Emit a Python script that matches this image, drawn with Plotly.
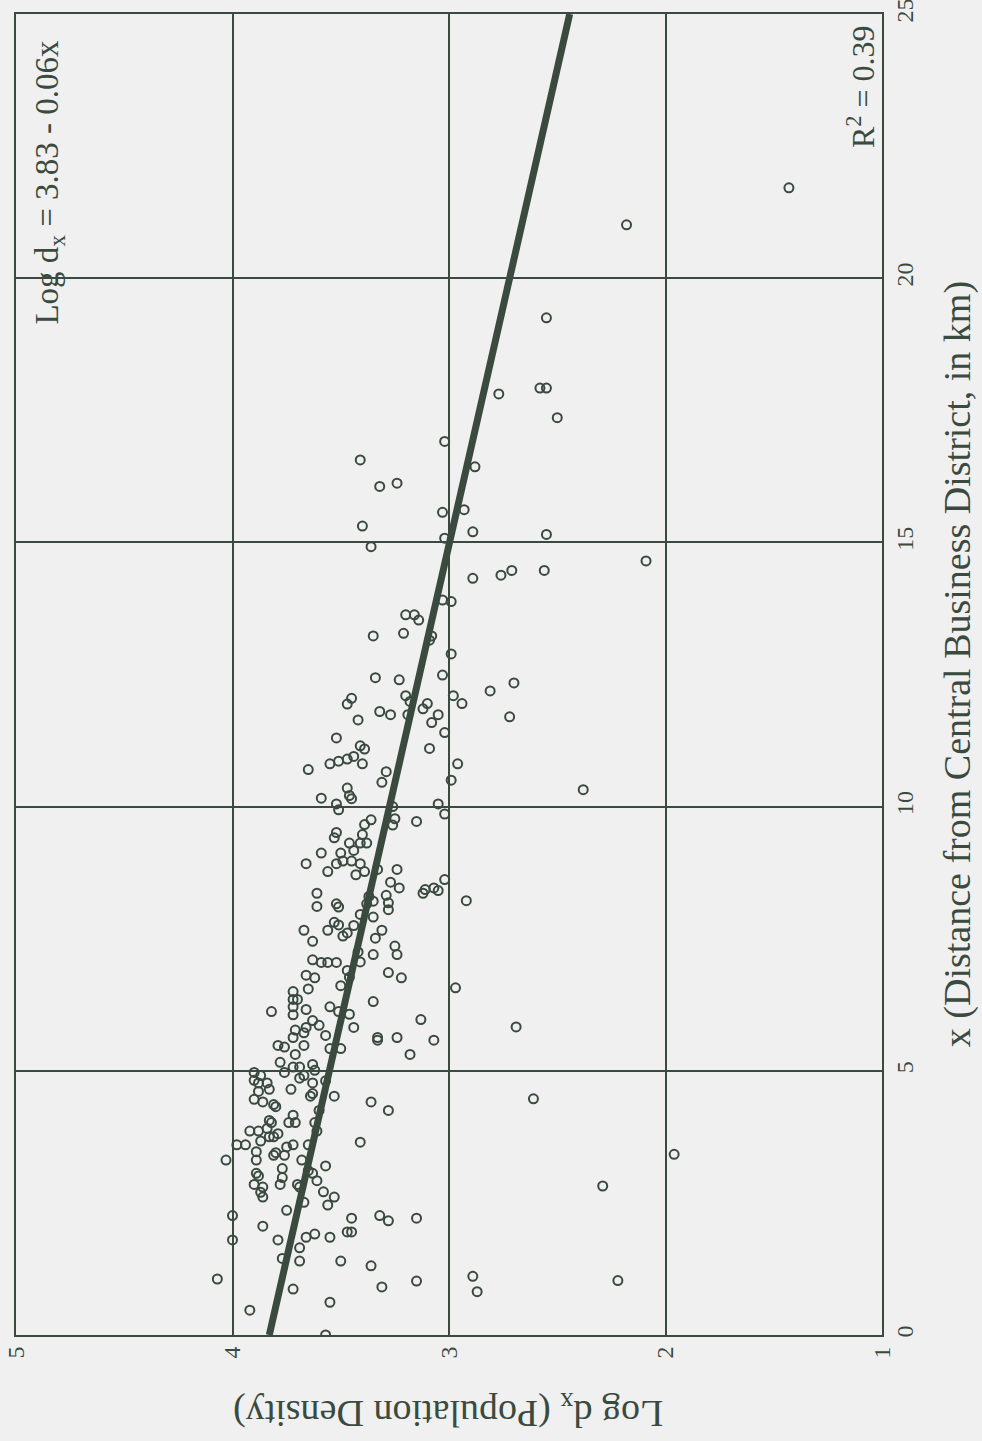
import plotly.graph_objects as go

# Distance from CBD (km) and log population density
distance_km = [
    21.71, 21.01, 19.25, 17.81, 17.92, 17.92, 17.36, 16.91, 16.56, 16.43, 16.06, 16.12, 15.57, 15.62, 15.31, 14.65,
    14.92, 15.08, 15.20, 15.15, 14.32, 14.38, 14.47, 14.47, 13.91, 13.88, 13.63, 13.63, 13.53, 13.23, 13.28, 13.23,
    13.15, 12.89, 12.44, 12.40, 12.49, 12.19, 12.34, 12.10, 11.99, 12.05, 11.94, 11.95, 11.85, 12.10, 11.95, 11.80,
    11.74, 11.74, 11.74, 11.59, 11.70, 11.64, 11.40, 11.30, 11.15, 11.09, 11.10, 10.70, 10.81, 10.86, 10.90, 10.95,
    10.81, 10.81, 10.66, 10.46, 10.50, 10.35, 10.32, 5.83,
    10.16, 10.05, 9.94, 10.21, 10.15, 10.00, 10.05, 9.86, 9.72, 9.77, 9.65, 9.75, 9.66, 9.51, 9.41, 9.47,
    9.31, 9.31, 9.31, 9.17, 9.12, 9.12, 8.97, 8.97, 8.92, 8.92, 8.92, 8.77, 8.71, 8.77, 8.81, 8.81,
    8.57, 8.46, 8.62, 8.43, 8.36, 8.46, 8.41, 8.22, 8.36, 8.11, 8.16, 8.10, 8.30, 8.21, 8.16, 8.32,
    8.18, 8.05, 7.96, 7.91, 7.81, 7.76, 7.75, 7.66, 7.66, 7.45, 7.55, 7.61, 7.66, 7.51, 7.36, 7.20,
    7.20, 7.25, 7.06, 7.10, 7.05, 7.05, 7.05, 6.90, 6.86, 6.76, 6.81, 6.76, 6.77, 6.55, 6.61, 6.57,
    6.50, 6.35, 6.35, 6.31, 6.12, 6.21, 6.06, 6.16, 6.21, 6.12, 6.07, 5.97, 5.95, 5.86, 5.82, 5.77,
    5.82, 5.63, 5.72, 5.67, 5.63, 5.58, 5.63, 5.58, 5.48, 5.45, 5.48, 5.42, 5.42,
    5.31, 5.31, 5.16, 5.07, 5.07, 5.12, 5.01, 4.97, 4.97, 4.91, 4.86, 4.91, 4.82, 4.77, 4.77, 4.77,
    4.81, 4.65, 4.61, 4.65, 4.52, 4.57, 4.52, 4.46, 4.41, 4.36, 4.32, 4.41, 4.25, 4.25, 4.16, 4.06,
    4.02, 4.02, 4.02, 4.02, 3.91, 3.86, 3.86, 3.86, 3.81, 3.75, 3.75, 3.67, 3.65, 3.60, 3.60, 3.56,
    3.60, 3.60, 3.47, 3.45, 3.40, 3.40, 3.31, 3.31, 3.31, 3.20, 3.15, 3.11, 3.06, 3.06, 3.01, 2.98,
    2.85, 2.85, 2.80, 2.85, 2.80, 2.92, 2.70, 2.61, 2.71, 2.61, 2.46, 2.51, 2.36, 2.26, 2.21, 2.26,
    2.16, 2.21, 2.06, 1.80, 1.80, 1.85, 1.91, 1.85, 1.95, 1.95, 1.65, 1.45, 1.40, 1.40, 1.31, 1.06,
    1.11, 0.82, 0.87, 0.91, 1.02, 0.62, 0.47, 0.00,
    4.47, 3.42, 2.82, 1.03,
]
log_density = [
    1.43, 2.18, 2.55, 2.77, 2.58, 2.55, 2.50, 3.02, 3.41, 2.88, 3.32, 3.24, 3.03, 2.93, 3.40, 2.09,
    3.36, 3.02, 2.89, 2.55, 2.89, 2.76, 2.71, 2.56, 3.03, 2.99, 3.20, 3.16, 3.14, 3.35, 3.21, 3.08,
    3.09, 2.99, 3.34, 3.23, 3.03, 2.81, 2.70, 3.20, 3.18, 3.45, 3.47, 3.10, 3.12, 2.98, 2.94, 3.32,
    3.27, 3.19, 3.05, 3.08, 2.72, 3.42, 3.02, 3.52, 3.41, 3.39, 3.09, 3.65, 3.55, 3.51, 3.47, 3.44,
    3.40, 2.96, 3.29, 3.31, 2.99, 3.47, 2.38, 2.69,
    3.59, 3.52, 3.51, 3.46, 3.45, 3.26, 3.05, 3.02, 3.15, 3.25, 3.26, 3.36, 3.39, 3.52, 3.53, 3.40,
    3.46, 3.41, 3.38, 3.44, 3.59, 3.50, 3.49, 3.45, 3.52, 3.41, 3.66, 3.56, 3.43, 3.39, 3.33, 3.24,
    3.27, 3.23, 3.02, 3.11, 3.12, 3.07, 3.05, 2.92, 3.61, 3.61, 3.52, 3.51, 3.37, 3.35, 3.38, 3.29,
    3.28, 3.28, 3.41, 3.35, 3.53, 3.51, 3.44, 3.56, 3.67, 3.63, 3.49, 3.47, 3.31, 3.34, 3.25, 3.24,
    3.35, 3.42, 3.41, 3.63, 3.59, 3.56, 3.52, 3.47, 3.28, 3.22, 3.66, 3.62, 3.46, 3.65, 3.50, 2.97,
    3.72, 3.72, 3.70, 3.35, 3.82, 3.72, 3.72, 3.66, 3.55, 3.51, 3.46, 3.13, 3.63, 3.60, 3.66, 3.71,
    3.44, 3.72, 3.67, 3.57, 3.33, 3.33, 3.24, 3.07, 3.79, 3.76, 3.67, 3.55, 3.50,
    3.71, 3.18, 3.78, 3.72, 3.69, 3.63, 3.62, 3.76, 3.90, 3.87, 3.69, 3.67, 3.90, 3.88, 3.84, 3.63,
    3.57, 3.83, 3.88, 3.73, 3.64, 3.63, 3.53, 3.90, 3.86, 3.81, 3.80, 3.36, 3.28, 3.60, 3.72, 3.83,
    3.82, 3.74, 3.71, 3.62, 3.84, 3.92, 3.88, 3.61, 3.79, 3.83, 3.81, 3.87, 3.41, 3.98, 3.94, 3.75,
    3.72, 3.65, 3.89, 3.80, 3.81, 3.76, 4.03, 3.89, 3.68, 3.57, 3.77, 3.65, 3.63, 3.89, 3.88, 3.77,
    3.78, 3.90, 3.86, 3.70, 3.69, 3.61, 3.87, 3.86, 3.58, 3.53, 3.56, 3.67, 3.75, 4.00, 3.45, 3.32,
    3.28, 3.15, 3.86, 4.00, 3.79, 3.66, 3.62, 3.55, 3.47, 3.45, 3.69, 3.77, 3.69, 3.50, 3.36, 4.07,
    2.89, 2.87, 3.72, 3.31, 3.15, 3.55, 3.92, 3.57,
    2.61, 1.96, 2.29, 2.22,
]

# Regression line
intercept = 3.83
slope = -0.0555
line_x = [0, 25]
line_y = [intercept + slope * v for v in line_x]

log_ticks = [1, 2, 3, 4, 5]
dist_ticks = [0, 5, 10, 15, 20, 25]

INK = "#3a4a3f"
BG = "#f0f0f0"
FONT = "Liberation Serif, Times New Roman, serif"

fig = go.Figure()
fig.add_trace(go.Scatter(
    x=log_density, y=distance_km, mode="markers",
    marker=dict(symbol="circle-open", size=9, color=INK, line=dict(width=2, color=INK)),
    showlegend=False, hoverinfo="skip",
))
fig.add_trace(go.Scatter(
    x=line_y, y=line_x, mode="lines",
    line=dict(color=INK, width=7), showlegend=False, hoverinfo="skip",
))

fig.update_layout(
    width=982, height=1441,
    margin=dict(l=16, r=100, t=14, b=106),
    paper_bgcolor=BG, plot_bgcolor=BG,
    font=dict(family=FONT, color=INK, size=20),
    xaxis=dict(
        range=[5, 1], tickvals=log_ticks, ticktext=[str(v) for v in log_ticks],
        tickangle=-90, showgrid=True, gridcolor=INK, gridwidth=1.5,
        showline=True, mirror=True, linecolor=INK, linewidth=2,
        zeroline=False, ticks="", ticklabeloverflow="allow", automargin=False,
        tickfont=dict(size=24, family=FONT, color=INK),
    ),
    yaxis=dict(
        range=[0, 25], tickvals=dist_ticks, ticktext=[str(v) for v in dist_ticks],
        side="right", tickangle=-90, showgrid=True, gridcolor=INK, gridwidth=1.5,
        showline=True, mirror=True, linecolor=INK, linewidth=2,
        zeroline=False, ticks="", ticklabeloverflow="allow", automargin=False,
        tickfont=dict(size=24, family=FONT, color=INK),
    ),
    annotations=[
        dict(text="Log d<sub>x</sub> (Population Density)", xref="paper", yref="paper",
             x=0.499, y=-0.058, textangle=180, showarrow=False,
             font=dict(size=38, family=FONT, color=INK), xanchor="center", yanchor="middle"),
        dict(text="x (Distance from Central Business District, in km)", xref="paper", yref="paper",
             x=1.088, y=0.508, textangle=-90, showarrow=False,
             font=dict(size=38, family=FONT, color=INK), xanchor="center", yanchor="middle"),
        dict(text="Log d<sub>x</sub> = 3.83 - 0.06x", xref="paper", yref="paper",
             x=0.039, y=0.873, textangle=-90, showarrow=False,
             font=dict(size=33, family=FONT, color=INK), xanchor="center", yanchor="middle"),
        dict(text="R<sup>2</sup> = 0.39", xref="paper", yref="paper",
             x=0.975, y=0.945, textangle=-90, showarrow=False,
             font=dict(size=32, family=FONT, color=INK), xanchor="center", yanchor="middle"),
    ],
)

fig.write_html(
    "out.html",
    config={"displayModeBar": False},
    post_script="document.body.style.margin='0';document.body.style.overflow='hidden';",
)
